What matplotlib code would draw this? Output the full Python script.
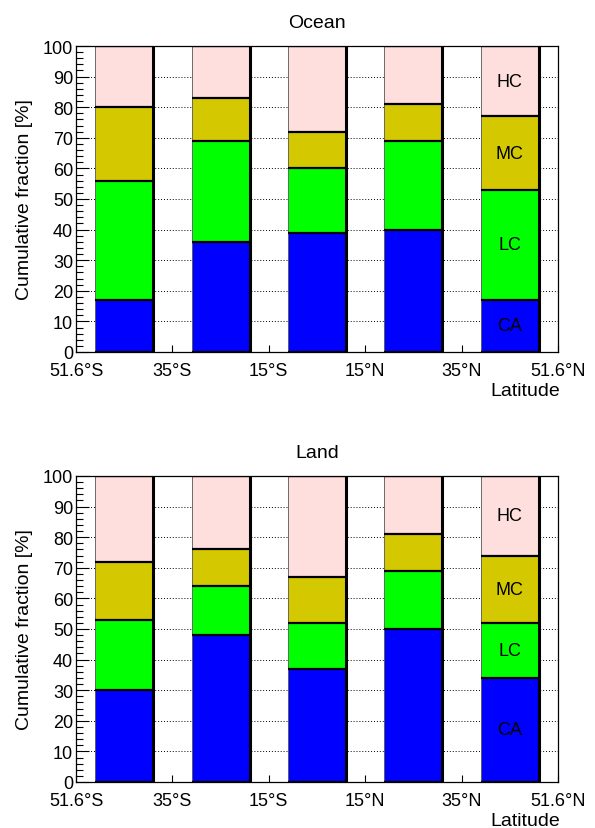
import matplotlib.pyplot as plt
from matplotlib.ticker import MultipleLocator
import numpy as np

plt.rcParams['font.family'] = ['Liberation Sans', 'DejaVu Sans']

# cumulative fraction [%] at the top of each class, per latitude band
bands = ['51.6°S', '35°S', '15°S', '15°N', '35°N', '51.6°N']
classes = ['CA', 'LC', 'MC', 'HC']
colors = ['#0000ff', '#00ff00', '#d4c800', '#ffdede']

ocean_ca = [17, 36, 39, 40, 17]
ocean_lc = [56, 69, 60, 69, 53]
ocean_mc = [80, 83, 72, 81, 77]
ocean_hc = [100, 100, 100, 100, 100]

land_ca = [30, 48, 37, 50, 34]
land_lc = [53, 64, 52, 69, 52]
land_mc = [72, 76, 67, 81, 74]
land_hc = [100, 100, 100, 100, 100]

fig = plt.figure(figsize=(5.95, 8.29), dpi=100)


def panel(rect, title, tops):
    ax = fig.add_axes(rect)
    x = np.arange(len(bands) - 1) + 0.2
    w = 0.6
    bottom = np.zeros(len(x))
    for top, col in zip(tops, colors):
        top = np.array(top, dtype=float)
        ax.bar(x, top - bottom, w, bottom=bottom, align='edge', color=col,
               edgecolor='#555555', linewidth=0.6, zorder=2)
        # dark top edge of each segment
        ax.hlines(top, x, x + w, color='black', lw=1.6, zorder=3)
        bottom = top
    # dark right edge of each bar
    ax.vlines(x + w, 0, 100, color='black', lw=2.2, zorder=3)
    ax.hlines(np.zeros(len(x)), x, x + w, color='black', lw=1.6, zorder=3)

    # class names inside the last bar
    prev = 0
    for top, name in zip(tops, classes):
        mid = (prev + top[-1]) / 2
        ax.text(x[-1] + w / 2, mid, name, ha='center', va='center',
                fontsize=13, zorder=4)
        prev = top[-1]

    ax.set_xlim(0, len(bands) - 1)
    ax.set_ylim(0, 100)
    ax.set_xticks(np.arange(len(bands)))
    ax.set_xticklabels(bands, fontsize=13)
    ax.tick_params(axis='x', direction='in', length=5, width=0.8, pad=7.5)
    ax.yaxis.set_major_locator(MultipleLocator(10))
    ax.yaxis.set_minor_locator(MultipleLocator(2))
    ax.tick_params(axis='y', which='major', direction='in', length=9,
                   width=0.8, labelsize=13, pad=2)
    ax.tick_params(axis='y', which='minor', direction='in', length=5,
                   width=0.8)
    ax.yaxis.grid(True, linestyle=(0, (1, 2)), color='black', lw=0.7,
                  zorder=1)
    ax.set_axisbelow(True)
    for s in ax.spines.values():
        s.set_linewidth(0.9)
    ax.set_ylabel('Cumulative fraction [%]', fontsize=14)
    ax.yaxis.set_label_coords(-0.09, 0.5)
    ax.set_title(title, fontsize=14, pad=14)
    ax.text(1.004, -0.125, 'Latitude', transform=ax.transAxes, ha='right',
            va='center', fontsize=14)
    return ax


panel([76 / 595, 1 - 353 / 829, 482 / 595, 306 / 829], 'Ocean',
      [ocean_ca, ocean_lc, ocean_mc, ocean_hc])
panel([76 / 595, 1 - 783 / 829, 482 / 595, 306 / 829], 'Land',
      [land_ca, land_lc, land_mc, land_hc])

fig.savefig('out.png', dpi=100)
